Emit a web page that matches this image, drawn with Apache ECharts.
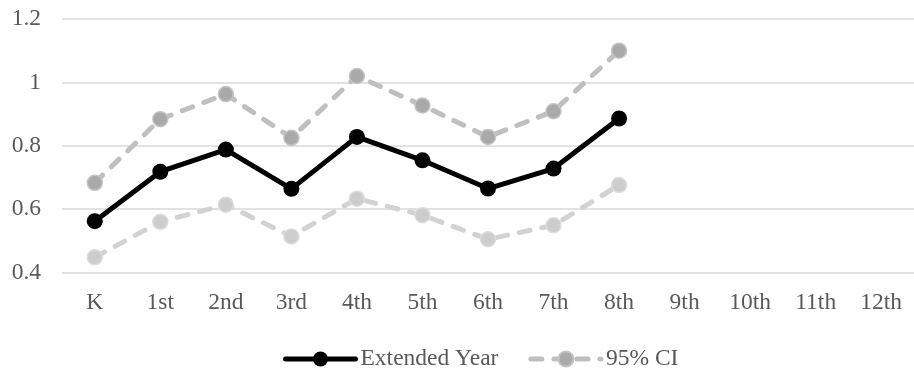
<!DOCTYPE html>
<html>
<head>
<meta charset="utf-8">
<script src="https://cdn.jsdelivr.net/npm/echarts@6/dist/echarts.min.js"></script>
<style>
  html, body { margin: 0; padding: 0; background: #ffffff; }
  #chart { width: 914px; height: 375px; }
</style>
</head>
<body>
<div id="chart"></div>
<script>
// Grade levels along the x axis
var grades = ['K', '1st', '2nd', '3rd', '4th', '5th', '6th', '7th', '8th', '9th', '10th', '11th', '12th'];

// Extended Year effect estimates (no data beyond 8th grade)
var extendedYear = [0.562, 0.718, 0.788, 0.664, 0.828, 0.754, 0.665, 0.728, 0.886];

// 95% confidence interval bounds
var ciUpper = [0.683, 0.884, 0.963, 0.825, 1.02, 0.927, 0.828, 0.909, 1.10];
var ciLower = [0.448, 0.560, 0.614, 0.514, 0.633, 0.581, 0.505, 0.549, 0.676];

// Value axis ticks
var yMin = 0.4, yMax = 1.2, yStep = 0.2;

var textFont = 'Liberation Serif';
var textColor = '#595959';
var fontSize = 23.5;

var chart = echarts.init(document.getElementById('chart'));
chart.setOption({
  animation: false,
  textStyle: { fontFamily: textFont },
  grid: { left: 62, right: -4, top: 19, bottom: 102.5 },
  legend: {
    data: ['Extended Year', '95% CI'],
    top: 342,
    left: 278,
    itemWidth: 70,
    itemHeight: 19,
    itemGap: 30,
    lineStyle: { width: 5, cap: 'round' },
    textStyle: { fontFamily: textFont, fontSize: fontSize, color: textColor }
  },
  xAxis: {
    type: 'category',
    data: grades,
    boundaryGap: true,
    axisLine: { show: false },
    axisTick: { show: false },
    axisLabel: { fontFamily: textFont, fontSize: fontSize, color: textColor, margin: 18 }
  },
  yAxis: {
    type: 'value',
    min: yMin,
    max: yMax,
    interval: yStep,
    axisLine: { show: false },
    axisTick: { show: false },
    splitLine: { lineStyle: { color: '#d9d9d9', width: 1.5 } },
    axisLabel: { fontFamily: textFont, fontSize: fontSize, color: textColor, margin: 21 }
  },
  series: [
    {
      name: '95% CI',
      type: 'line',
      data: ciUpper,
      symbol: 'circle',
      symbolSize: 15,
      lineStyle: { color: '#bfbfbf', width: 5, type: [11, 12], cap: 'round' },
      itemStyle: { color: '#a9a9a9', borderColor: '#c4c4c4', borderWidth: 1.5 },
      z: 2
    },
    {
      name: '95% CI',
      type: 'line',
      data: ciLower,
      symbol: 'circle',
      symbolSize: 15,
      lineStyle: { color: '#d2d2d2', width: 5, type: [11, 12], cap: 'round' },
      itemStyle: { color: '#cdcdcd', borderColor: '#dcdcdc', borderWidth: 1.5 },
      z: 2
    },
    {
      name: 'Extended Year',
      type: 'line',
      data: extendedYear,
      symbol: 'circle',
      symbolSize: 16,
      lineStyle: { color: '#000000', width: 5 },
      itemStyle: { color: '#000000' },
      z: 3
    }
  ]
});
</script>
</body>
</html>
